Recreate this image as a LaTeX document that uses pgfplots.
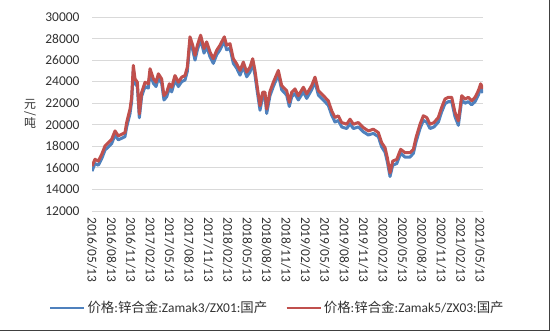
\documentclass[border=0pt]{standalone}
\usepackage{pgfplots}
\pgfplotsset{compat=1.18}
\usepackage{pgfplotstable}
\usepackage{fontspec}
\setmainfont{Carlito}
\newfontfamily\cjk{Noto Sans CJK SC}
\definecolor{zblue}{RGB}{79,129,189}
\definecolor{zred}{RGB}{192,80,77}
\definecolor{gridc}{RGB}{217,217,217}
\definecolor{txt}{RGB}{50,50,50}
\pgfplotstableread{
m red blue
0 16160 15700
0.46 16800 16400
0.98 16630 16250
1.5 17250 16850
2.01 18030 17650
2.52 18340 17950
3.04 18650 18250
3.56 19430 19050
4.07 18970 18600
4.59 19120 18750
5.1 19280 18900
5.36 20210 19800
5.88 21460 21050
6.13 22550 22150
6.39 25510 25100
6.65 24260 23850
7.01 23950 23550
7.32 21000 20650
7.68 23020 22650
8.2 23950 23550
8.71 23800 23400
8.97 25200 24800
9.49 24260 23850
9.9 23950 23550
10.26 24730 24300
10.77 24260 23850
11.13 22700 22300
11.55 23020 22600
11.96 23800 23400
12.32 23480 23050
12.83 24570 24150
13.35 23950 23550
13.87 24420 24000
14.38 24570 24150
14.74 25350 24950
15.15 28160 27750
15.57 27380 26950
15.93 26440 26000
16.29 27380 26950
16.8 28310 27900
17.32 27070 26650
17.73 27690 27250
18.25 26750 26300
18.76 26130 25700
19.28 26910 26500
19.79 27380 26950
20.46 28160 27750
20.82 27380 26950
21.34 27530 27100
21.85 26130 25700
22.37 25660 25250
22.89 25040 24600
23.4 25820 25400
23.92 24880 24450
24.43 25350 24900
24.85 26130 25700
25.2 25040 24600
25.56 23480 23050
25.98 21770 21350
26.39 23020 22600
26.75 23020 22600
27.01 21460 21050
27.52 23100 22700
28.04 23950 23550
28.81 25040 24650
29.33 23640 23250
30.1 23170 22750
30.51 22080 21700
30.88 23020 22600
31.39 23330 22900
31.9 22700 22300
32.68 23480 23050
33.2 22860 22450
33.97 23640 23250
34.48 24420 24000
35 23170 22750
35.77 22700 22300
36.54 22230 21800
37.06 21300 20900
37.58 20680 20250
38.09 20830 20400
38.61 20210 19800
39.38 20050 19650
39.9 20520 20100
40.41 20050 19650
41.18 20210 19800
41.95 19740 19350
42.73 19430 19050
43.5 19590 19200
44.27 19280 18900
44.79 18340 17950
45.31 17870 17450
45.67 16940 16550
46.08 15540 15200
46.5 16630 16250
47.12 16790 16400
47.73 17720 17350
48.4 17410 17000
49.17 17410 17000
49.69 17720 17350
50.1 18810 18400
50.72 20050 19650
51.23 20830 20400
51.75 20680 20250
52.27 20050 19650
52.88 20210 19800
53.55 20680 20250
54.07 21620 21200
54.58 22390 21950
55.1 22550 22150
55.62 22550 22150
56.13 21150 20750
56.65 20370 19950
57.17 22700 22300
57.68 22390 22000
58.2 22550 22150
58.71 22230 21850
59.23 22550 22150
59.74 23170 22750
60.1 23800 23400
60.46 23330 22950
}\zinc
\begin{document}
\begin{tikzpicture}[x=1bp,y=1bp]
\useasboundingbox (0,0) rectangle (550,331);
\draw[line width=1.5bp, black!75] (0,0.75) -- (549.25,0.75) -- (549.25,331);
\begin{scope}[every node/.style={font=\fontsize{12}{13}\selectfont\cjk, text=txt, inner sep=0pt}]
\node at (30,227) {元};
\node at (30,217.5) {\rotatebox{-90}{/}};
\node at (30,208) {吨};
\end{scope}
\begin{axis}[
  scale only axis, width=391bp, height=194bp,
  at={(92bp,120bp)}, anchor=south west,
  xmin=0, xmax=60.46, ymin=12000, ymax=30000,
  ytick={12000,14000,...,30000},
  xtick={0,3,...,60},
  xticklabels={2016/05/13,2016/08/13,2016/11/13,2017/02/13,2017/05/13,2017/08/13,2017/11/13,2018/02/13,2018/05/13,2018/08/13,2018/11/13,2019/02/13,2019/05/13,2019/08/13,2019/11/13,2020/02/13,2020/05/13,2020/08/13,2020/11/13,2021/02/13,2021/05/13},
  ymajorgrids, grid style={gridc, line width=0.9bp},
  axis line style={draw=none}, major tick length=0,
  tick label style={font=\fontsize{13.5}{16}\selectfont, text=txt},
  yticklabel style={xshift=-9bp},
  xticklabel style={rotate=-90, anchor=west, inner xsep=6bp},
  scaled y ticks=false,
  /pgf/number format/assume math mode=true,
  /pgf/number format/set thousands separator={},
  legend columns=2,
  legend style={at={(0.474,-0.5)}, anchor=center, draw=none, fill=none,
    font=\fontsize{13.5}{16}\selectfont, text=txt,
    /tikz/every even column/.append style={column sep=16bp}},
  legend image code/.code={\draw[#1, line width=2.5bp] (0bp,0bp) -- (34bp,0bp);},
]
\addplot[zblue, line width=3bp, line join=round, no markers] table[x=m, y=blue] {\zinc};
\addlegendentry{{\cjk 价格}:{\cjk 锌合金}:Zamak3/ZX01:{\cjk 国产}}
\addplot[zred, line width=3bp, line join=round, no markers] table[x=m, y=red] {\zinc};
\addlegendentry{{\cjk 价格}:{\cjk 锌合金}:Zamak5/ZX03:{\cjk 国产}}
\end{axis}
\end{tikzpicture}
\end{document}
